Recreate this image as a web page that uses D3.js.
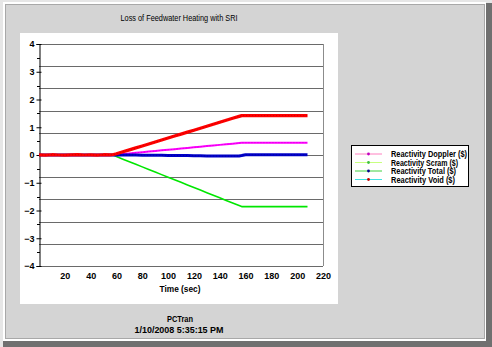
<!DOCTYPE html>
<html>
<head>
<meta charset="utf-8">
<script src="https://cdn.jsdelivr.net/npm/d3@7"></script>
<style>
  html, body { margin: 0; padding: 0; background: #e6e6e6; }
  svg { display: block; }
  text { font-family: "Liberation Sans", Arial, sans-serif; fill: #000; }
</style>
</head>
<body>
<svg id="chart" width="492" height="347"></svg>
<script>
// Time axis (sec)
const time = [0, 5, 10, 15, 20, 25, 30, 35, 40, 45, 50, 55, 57,
  60, 65, 70, 75, 80, 85, 90, 95, 100, 105, 110, 115, 120, 125, 130, 135, 140, 145, 150, 155, 157,
  160, 165, 170, 175, 180, 185, 190, 195, 200, 205, 208];

// Reactivity components ($)
const doppler = [0, 0, 0, 0, 0, 0, 0, 0, 0, 0, 0, 0, 0,
  0.013, 0.035, 0.057, 0.079, 0.101, 0.123, 0.145, 0.167, 0.189, 0.211, 0.233, 0.255, 0.277, 0.299, 0.321, 0.343, 0.365, 0.387, 0.409, 0.431, 0.44,
  0.44, 0.445, 0.445, 0.445, 0.445, 0.445, 0.445, 0.445, 0.445, 0.445, 0.445];
const scram = [0, 0, 0, 0, 0, 0, 0, 0, 0, 0, 0, 0, 0,
  -0.056, -0.149, -0.242, -0.335, -0.428, -0.521, -0.614, -0.707, -0.8, -0.893, -0.986, -1.079, -1.172, -1.265, -1.358, -1.451, -1.544, -1.637, -1.73, -1.823, -1.86,
  -1.86, -1.86, -1.86, -1.86, -1.86, -1.86, -1.86, -1.86, -1.86, -1.86, -1.86];
const total = [0, 0, 0, 0, 0, 0, 0, 0, 0, 0, 0, 0, 0,
  0, 0, 0, 0, -0.005, -0.01, -0.01, -0.01, -0.015, -0.015, -0.02, -0.02, -0.025, -0.03, -0.035, -0.035, -0.04, -0.04, -0.04, -0.035, -0.02,
  0.01, 0.01, 0.01, 0.01, 0.01, 0.01, 0.01, 0.01, 0.01, 0.01, 0.01];
const voidR = [0.005, -0.005, 0.01, 0, -0.005, 0.005, 0.01, 0, 0.005, -0.005, 0.01, 0.005, 0.01,
  0.043, 0.114, 0.185, 0.256, 0.327, 0.398, 0.469, 0.54, 0.611, 0.682, 0.753, 0.824, 0.895, 0.966, 1.037, 1.108, 1.179, 1.25, 1.321, 1.392, 1.42,
  1.42, 1.42, 1.42, 1.42, 1.42, 1.42, 1.42, 1.42, 1.42, 1.42, 1.42];

const xTicks = [20, 40, 60, 80, 100, 120, 140, 160, 180, 200, 220];
const yTicks = [-4, -3, -2, -1, 0, 1, 2, 3, 4];
const yMinorTicks = [-3.5, -2.5, -1.5, -0.5, 0.5, 1.5, 2.5, 3.5];
const gridValues = [-4, -3.2, -2.4, -1.6, -0.8, 0, 0.8, 1.6, 2.4, 3.2, 4];

const seriesNames = ["Reactivity Doppler ($)", "Reactivity Scram ($)", "Reactivity Total ($)", "Reactivity Void ($)"];

const svg = d3.select("#chart");

// Window frame
svg.append("rect").attr("x", 0).attr("y", 0).attr("width", 492).attr("height", 347).attr("fill", "#e6e6e6");
svg.append("rect").attr("x", 3).attr("y", 3).attr("width", 489).attr("height", 344).attr("fill", "#707070");
svg.append("rect").attr("x", 3).attr("y", 2).attr("width", 483).attr("height", 339).attr("fill", "#ffffff");
svg.append("rect").attr("x", 5).attr("y", 4).attr("width", 480).attr("height", 335).attr("fill", "#a8a8a8");
svg.append("rect").attr("x", 6).attr("y", 5).attr("width", 478).attr("height", 333).attr("fill", "#d4d4d4");

// White chart panel
svg.append("rect").attr("x", 20).attr("y", 33).attr("width", 318).attr("height", 271).attr("fill", "#ffffff");

const x = d3.scaleLinear().domain([0, 220]).range([39, 323]);
const y = d3.scaleLinear().domain([-4, 4]).range([266, 44]);

// Title
svg.append("text").attr("x", 179).attr("y", 21).attr("text-anchor", "middle")
  .attr("font-size", 9).attr("textLength", 117).attr("lengthAdjust", "spacingAndGlyphs")
  .text("Loss of Feedwater Heating with SRI");

// Horizontal grid
svg.append("g").selectAll("line").data(gridValues).join("line")
  .attr("x1", x(0)).attr("x2", x(220))
  .attr("y1", d => Math.round(y(d)) + 0.5).attr("y2", d => Math.round(y(d)) + 0.5)
  .attr("stroke", "#6a6a6a").attr("stroke-width", 1);

// Right border
svg.append("line").attr("x1", x(220) + 0.5).attr("x2", x(220) + 0.5)
  .attr("y1", y(4)).attr("y2", y(-4)).attr("stroke", "#8c8c8c");

// Y axis with major and minor ticks
const yAxis = svg.append("g").attr("transform", `translate(${x(0) + 0.5},0)`)
  .call(d3.axisLeft(y).tickValues(yTicks).tickSize(3).tickFormat(d3.format("d")));
yAxis.select(".domain").attr("stroke", "#000");
yAxis.selectAll(".tick line").attr("x2", -3).attr("x1", 2).attr("stroke", "#000");
yAxis.selectAll(".tick text").attr("x", -5).attr("font-size", 9).attr("font-weight", "bold")
  .attr("font-family", "Liberation Sans, Arial, sans-serif");
svg.append("g").selectAll("line").data(yMinorTicks).join("line")
  .attr("x1", x(0) - 2).attr("x2", x(0) + 1)
  .attr("y1", d => Math.round(y(d)) + 0.5).attr("y2", d => Math.round(y(d)) + 0.5)
  .attr("stroke", "#000");

// X axis labels
const xAxis = svg.append("g").attr("transform", `translate(0,${y(-4) + 4})`)
  .call(d3.axisBottom(x).tickValues(xTicks).tickSize(0).tickFormat(d3.format("d")));
xAxis.select(".domain").remove();
xAxis.selectAll(".tick text").attr("font-size", 9).attr("font-weight", "bold")
  .attr("font-family", "Liberation Sans, Arial, sans-serif");

svg.append("text").attr("x", 180).attr("y", 292).attr("text-anchor", "middle")
  .attr("font-size", 9).attr("font-weight", "bold").attr("textLength", 41).attr("lengthAdjust", "spacingAndGlyphs")
  .text("Time (sec)");

// Series
const line = d3.line().x((d, i) => x(time[i])).y(d => y(d));
const series = [
  { values: scram, color: "#00e600", width: 1.6, dot: null },
  { values: doppler, color: "#ff00ff", width: 2, dot: "#c000c0" },
  { values: total, color: "#0000c8", width: 3, dot: "#000080" },
  { values: voidR, color: "#ff0000", width: 3.2, dot: "#b00000" }
];
series.forEach(s => {
  svg.append("path").datum(s.values).attr("d", line)
    .attr("fill", "none").attr("stroke", s.color).attr("stroke-width", s.width)
    .attr("stroke-linejoin", "round");
  if (s.dot) {
    svg.append("path").datum(s.values).attr("d", line)
      .attr("fill", "none").attr("stroke", s.dot).attr("stroke-width", 1)
      .attr("stroke-dasharray", "1,2").attr("opacity", 0.6);
  }
});

// Legend
const legend = svg.append("g");
legend.append("rect").attr("x", 351.5).attr("y", 145.5).attr("width", 117).attr("height", 41)
  .attr("fill", "#ffffff").attr("stroke", "#000").attr("stroke-width", 1);
const legendLine = ["#ff80c0", "#c8ff80", "#40d040", "#40e0e0"];
const legendDot = ["#c000c0", "#40c040", "#000090", "#c00000"];
const rowY = [154, 162.5, 171, 179.5];
seriesNames.forEach((name, i) => {
  legend.append("line").attr("x1", 355).attr("x2", 382).attr("y1", rowY[i]).attr("y2", rowY[i])
    .attr("stroke", legendLine[i]).attr("stroke-width", 1);
  legend.append("circle").attr("cx", 368.5).attr("cy", rowY[i]).attr("r", 1.4).attr("fill", legendDot[i]);
  legend.append("text").attr("x", 391).attr("y", rowY[i] + 3).attr("font-size", 8.5).attr("font-weight", "bold")
    .attr("textLength", [76, 67, 65, 64][i]).attr("lengthAdjust", "spacingAndGlyphs")
    .text(name);
});

// Footer
svg.append("text").attr("x", 180).attr("y", 322).attr("text-anchor", "middle")
  .attr("font-size", 9).attr("font-weight", "bold").attr("textLength", 26).attr("lengthAdjust", "spacingAndGlyphs")
  .text("PCTran");
svg.append("text").attr("x", 179).attr("y", 333).attr("text-anchor", "middle")
  .attr("font-size", 9).attr("font-weight", "bold").attr("textLength", 89).attr("lengthAdjust", "spacingAndGlyphs")
  .text("1/10/2008 5:35:15 PM");
</script>
</body>
</html>
